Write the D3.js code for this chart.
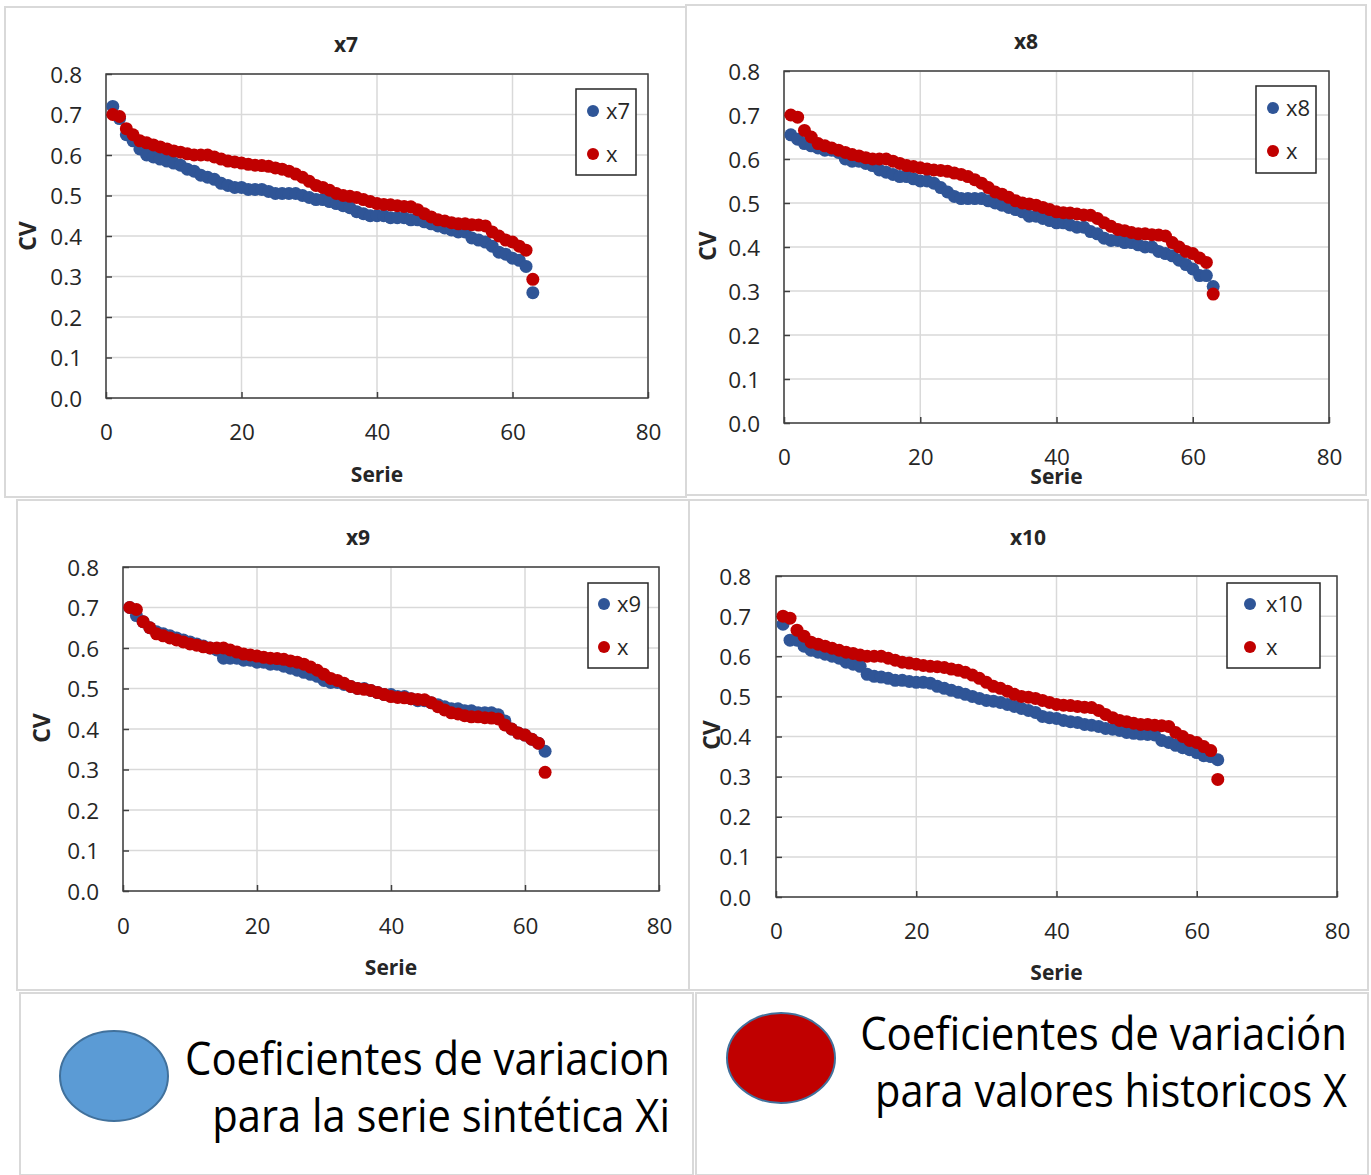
<!DOCTYPE html>
<html><head><meta charset="utf-8">
<script src="https://cdn.jsdelivr.net/npm/d3@7"></script>
<style>body{margin:0;background:#fff}svg{display:block}</style>
</head><body>
<svg id="c" width="1371" height="1175"></svg>
<script>
// ---------------- DATA ----------------
const serie = [1,2,3,4,5,6,7,8,9,10,11,12,13,14,15,16,17,18,19,20,21,22,23,24,25,26,27,28,29,30,31,32,33,34,35,36,37,38,39,40,41,42,43,44,45,46,47,48,49,50,51,52,53,54,55,56,57,58,59,60,61,62,63];
const histX = [0.70,0.695,0.665,0.65,0.635,0.63,0.625,0.62,0.615,0.61,0.607,0.603,0.60,0.60,0.60,0.595,0.59,0.585,0.583,0.58,0.577,0.575,0.574,0.572,0.568,0.565,0.56,0.553,0.545,0.535,0.525,0.52,0.513,0.505,0.50,0.498,0.495,0.49,0.485,0.48,0.478,0.477,0.475,0.473,0.472,0.465,0.455,0.447,0.44,0.437,0.433,0.43,0.43,0.428,0.427,0.425,0.41,0.40,0.39,0.385,0.375,0.365,0.293];
const x7 = [0.72,0.69,0.65,0.635,0.615,0.60,0.595,0.59,0.585,0.58,0.575,0.565,0.56,0.55,0.545,0.54,0.53,0.525,0.52,0.52,0.515,0.515,0.515,0.51,0.505,0.505,0.505,0.505,0.50,0.495,0.49,0.49,0.485,0.48,0.475,0.47,0.46,0.455,0.45,0.45,0.45,0.445,0.445,0.445,0.44,0.44,0.435,0.43,0.425,0.42,0.415,0.41,0.41,0.395,0.39,0.385,0.375,0.36,0.355,0.345,0.34,0.325,0.26];
const x8 = [0.655,0.645,0.635,0.63,0.625,0.62,0.62,0.615,0.60,0.595,0.595,0.59,0.585,0.575,0.57,0.565,0.56,0.56,0.555,0.55,0.55,0.545,0.535,0.525,0.515,0.51,0.51,0.51,0.51,0.505,0.50,0.495,0.49,0.485,0.48,0.47,0.47,0.465,0.46,0.455,0.455,0.45,0.445,0.445,0.435,0.43,0.42,0.415,0.415,0.41,0.41,0.405,0.40,0.40,0.39,0.385,0.38,0.37,0.36,0.35,0.335,0.335,0.31];
const x9 = [0.70,0.68,0.665,0.65,0.64,0.635,0.63,0.625,0.62,0.615,0.61,0.605,0.60,0.595,0.575,0.575,0.575,0.57,0.57,0.565,0.565,0.56,0.56,0.555,0.55,0.545,0.54,0.535,0.53,0.52,0.515,0.515,0.51,0.505,0.50,0.50,0.495,0.49,0.485,0.485,0.48,0.48,0.475,0.47,0.47,0.465,0.46,0.455,0.45,0.45,0.445,0.445,0.44,0.44,0.44,0.435,0.42,0.40,0.39,0.385,0.375,0.365,0.345];
const x10 = [0.68,0.64,0.64,0.625,0.615,0.61,0.605,0.60,0.595,0.585,0.58,0.575,0.555,0.55,0.548,0.545,0.54,0.54,0.537,0.535,0.535,0.533,0.525,0.52,0.515,0.51,0.505,0.50,0.495,0.49,0.488,0.485,0.48,0.475,0.47,0.465,0.46,0.45,0.447,0.445,0.44,0.437,0.435,0.43,0.428,0.425,0.42,0.418,0.415,0.41,0.408,0.406,0.405,0.404,0.39,0.385,0.378,0.372,0.367,0.36,0.352,0.35,0.342];
const yTicks = [0,0.1,0.2,0.3,0.4,0.5,0.6,0.7,0.8];
const xTicks = [0,20,40,60,80];
const seriesNames = ["x7","x8","x9","x10"];
const histName = "x";
const legendTexts = [["Coeficientes de variacion","para la serie sintética Xi"],["Coeficientes de variación","para valores historicos X"]];

// ---------------- LAYOUT ----------------
const BLUE = "#2f5597", RED = "#c00000";
const FONT = "'Open Sans', 'Liberation Sans', sans-serif";
const svg = d3.select("#c");
const synth = [x7, x8, x9, x10];

const panels = [
  {box:[5,7,686,497], plot:[106,74,648,398], titleY:52, cv:[28,236], serieY:482, xlabY:441, ylabX:82, leg:[576,89,636,175], legRows:[111,154], legMX:593, legTX:606},
  {box:[686,5,1366,495], plot:[784,71,1329,423], titleY:49, cv:[708,246], serieY:484, xlabY:466, ylabX:760, leg:[1256,86,1316,173], legRows:[108,151], legMX:1273, legTX:1286},
  {box:[17,500,689,990], plot:[123,567,659,891], titleY:545, cv:[42,728], serieY:975, xlabY:935, ylabX:99, leg:[588,583,648,668], legRows:[604,647], legMX:604, legTX:617},
  {box:[689,500,1368,990], plot:[776,576,1337,897], titleY:545, cv:[712,735], serieY:980, xlabY:940, ylabX:751, leg:[1227,583,1320,668], legRows:[604,647], legMX:1250, legTX:1266}
];

panels.forEach((p, i) => {
  const g = svg.append("g");
  const [bx0,by0,bx1,by1] = p.box;
  g.append("rect").attr("x",bx0).attr("y",by0).attr("width",bx1-bx0).attr("height",by1-by0)
    .attr("fill","#fff").attr("stroke","#d9d9d9").attr("stroke-width",2);
  const [px0,py0,px1,py1] = p.plot;
  const x = d3.scaleLinear().domain([0,80]).range([px0,px1]);
  const y = d3.scaleLinear().domain([0,0.8]).range([py1,py0]);

  g.append("g").selectAll("line").data(yTicks).join("line")
    .attr("x1",px0).attr("x2",px1).attr("y1",d=>y(d)).attr("y2",d=>y(d))
    .attr("stroke","#d9d9d9").attr("stroke-width",1.5);
  g.append("g").selectAll("line").data(xTicks).join("line")
    .attr("y1",py0).attr("y2",py1).attr("x1",d=>x(d)).attr("x2",d=>x(d))
    .attr("stroke","#d9d9d9").attr("stroke-width",1.5);

  const ya = g.append("g").attr("transform",`translate(${px0},0)`)
    .call(d3.axisLeft(y).tickValues(yTicks).tickSize(-6).tickPadding(px0 - p.ylabX).tickFormat(d3.format(".1f")));
  const xa = g.append("g").attr("transform",`translate(0,${py1})`)
    .call(d3.axisBottom(x).tickValues(xTicks).tickSize(-6).tickPadding(p.xlabY - py1 - 17));
  [ya, xa].forEach(a => {
    a.select(".domain").remove();
    a.selectAll(".tick line").attr("stroke","#404040").attr("stroke-width",1.5);
    a.selectAll(".tick text").attr("fill","#262626").style("font-family",FONT).style("font-size","22.5px");
  });
  ya.selectAll(".tick text").attr("dy","0.36em");
  xa.selectAll(".tick text").attr("dy","0.71em");

  g.append("rect").attr("x",px0).attr("y",py0).attr("width",px1-px0).attr("height",py1-py0)
    .attr("fill","none").attr("stroke","#404040").attr("stroke-width",1.5);

  const sData = serie.map((s,k)=>({s, v:synth[i][k]}));
  const hData = serie.map((s,k)=>({s, v:histX[k]}));
  g.append("g").selectAll("circle").data(sData).join("circle")
    .attr("cx",d=>x(d.s)).attr("cy",d=>y(d.v)).attr("r",6.5).attr("fill",BLUE);
  g.append("g").selectAll("circle").data(hData).join("circle")
    .attr("cx",d=>x(d.s)).attr("cy",d=>y(d.v)).attr("r",6.5).attr("fill",RED);

  const cx = (px0+px1)/2;
  const titleX = [346,1026,358,1028][i];
  g.append("text").attr("x",titleX).attr("y",p.titleY).attr("text-anchor","middle")
    .style("font-family",FONT).style("font-weight","bold").style("font-size","21px").attr("fill","#262626").text(seriesNames[i]);
  g.append("text").attr("x",cx).attr("y",p.serieY).attr("text-anchor","middle")
    .style("font-family",FONT).style("font-weight","bold").style("font-size","21px").attr("fill","#262626").text("Serie");
  g.append("text").attr("transform",`translate(${p.cv[0]+8},${p.cv[1]}) rotate(-90)`).attr("text-anchor","middle")
    .style("font-family",FONT).style("font-weight","bold").style("font-size","23px").attr("fill","#262626").text("CV");

  const [lx0,ly0,lx1,ly1] = p.leg;
  g.append("rect").attr("x",lx0).attr("y",ly0).attr("width",lx1-lx0).attr("height",ly1-ly0)
    .attr("fill","#fff").attr("stroke","#262626").attr("stroke-width",1.5);
  [[seriesNames[i],BLUE],[histName,RED]].forEach(([name,col],k)=>{
    g.append("circle").attr("cx",p.legMX).attr("cy",p.legRows[k]).attr("r",6).attr("fill",col);
    g.append("text").attr("x",p.legTX).attr("y",p.legRows[k]).attr("dy","0.36em")
      .style("font-family",FONT).style("font-size","22px").attr("fill","#262626").text(name);
  });
});

// bottom legend boxes
const legBoxes = [
  {box:[20,993,693,1175], ell:[114,1076], fill:"#5b9bd5", lines:[{x:670,y:1075,w:485},{x:670,y:1132,w:458}]},
  {box:[696,993,1368,1175], ell:[781,1058], fill:"#c00000", lines:[{x:1347,y:1050,w:487},{x:1347,y:1107,w:472}]}
];
legBoxes.forEach((b,i)=>{
  const [x0,y0,x1,y1] = b.box;
  svg.append("rect").attr("x",x0).attr("y",y0).attr("width",x1-x0).attr("height",y1-y0)
    .attr("fill","#fff").attr("stroke","#d9d9d9").attr("stroke-width",2);
  svg.append("ellipse").attr("cx",b.ell[0]).attr("cy",b.ell[1]).attr("rx",54).attr("ry",45)
    .attr("fill",b.fill).attr("stroke","#41719c").attr("stroke-width",2);
  b.lines.forEach((l,k)=>{
    const t = svg.append("text").attr("x",0).attr("y",0).attr("text-anchor","end")
      .style("font-family",FONT).style("font-size","45px").attr("fill","#000").text(legendTexts[i][k]);
    const natural = t.node().getComputedTextLength();
    const s = l.w / natural;
    t.attr("transform",`translate(${l.x},${l.y}) scale(${s},1)`);
  });
});
</script>
</body></html>
